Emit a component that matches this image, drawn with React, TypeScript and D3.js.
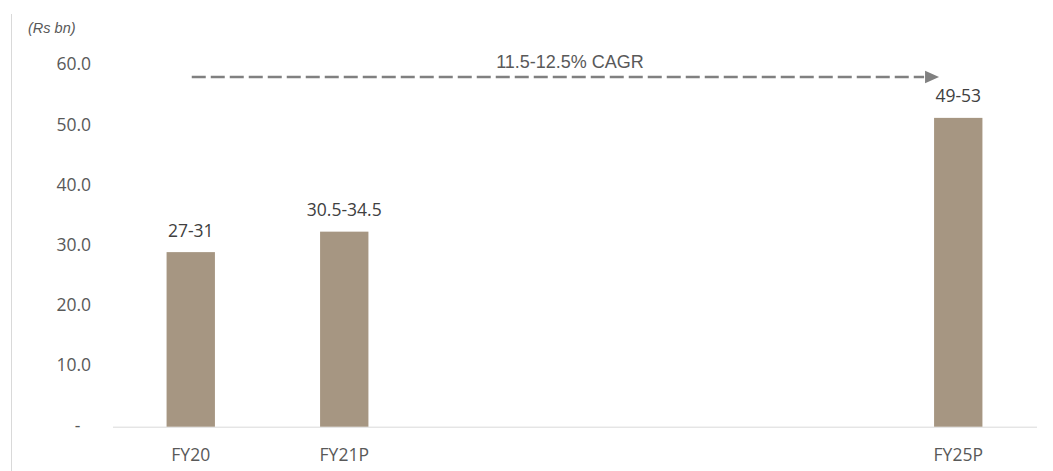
import React from "react";
import * as d3 from "d3";

const categories = ["FY20", "FY21P", "FY22P", "FY23P", "FY24P", "FY25P"];
const shownLabels = ["FY20", "FY21P", "FY25P"];
const values: (number | null)[] = [29, 32.4, null, null, null, 51.3];
const rangeLabels = ["27-31", "30.5-34.5", "", "", "", "49-53"];
const yTicks = [0, 10, 20, 30, 40, 50, 60];
const cagrText = "11.5-12.5% CAGR";
const unitText = "(Rs bn)";

const W = 1053;
const H = 471;
const M = { left: 114, right: 18, top: 65.5, bottom: 44.3 };

export default function App() {
  const x = d3
    .scaleBand<string>()
    .domain(categories)
    .range([M.left, W - M.right])
    .paddingInner(0.685)
    .paddingOuter(0.3425);
  const y = d3.scaleLinear().domain([0, 60]).range([H - M.bottom, M.top]);
  const fmt = (v: number) => (v === 0 ? "-" : d3.format(".1f")(v));
  const font = "'Open Sans', sans-serif";
  const arial = "'Liberation Sans', Arial, sans-serif";
  const arrowY = y(58.1);
  const x0 = (x("FY20") as number) + x.bandwidth() / 2 + 1;
  const x1 = (x("FY25P") as number) - 10;

  return (
    <svg width={W} height={H} style={{ position: "absolute", left: 0, top: 0 }}>
      <rect width={W} height={H} fill="#fff" />
      <line x1={11.5} x2={11.5} y1={14} y2={H} stroke="#d9d9d9" strokeWidth={1} />
      <text x={28} y={33} fontSize={14.5} fontStyle="italic" fill="#595959" fontFamily={arial}>
        {unitText}
      </text>
      {yTicks.map((t) => (
        <text
          key={t}
          x={t === 0 ? 80.5 : 91}
          y={y(t) + 4.8}
          textAnchor="end"
          fontSize={17.5}
          fill="#595959"
          fontFamily={font}
        >
          {fmt(t)}
        </text>
      ))}
      <line
        x1={x.range()[0] - 1}
        x2={x.range()[1] + 2}
        y1={y(0) + 0.5}
        y2={y(0) + 0.5}
        stroke="#d9d9d9"
        strokeWidth={1}
      />
      {categories.map((c, i) =>
        values[i] == null ? null : (
          <g key={c}>
            <rect
              x={x(c)}
              y={y(values[i] as number)}
              width={x.bandwidth()}
              height={y(0) - y(values[i] as number)}
              fill="#A69682"
            />
            <text
              x={(x(c) as number) + x.bandwidth() / 2}
              y={y(values[i] as number) - 15.5}
              textAnchor="middle"
              fontSize={17.5}
              fill="#404040"
              fontFamily={font}
            >
              {rangeLabels[i]}
            </text>
          </g>
        )
      )}
      {categories.map((c) =>
        shownLabels.includes(c) ? (
          <text
            key={c}
            x={(x(c) as number) + x.bandwidth() / 2}
            y={460.5}
            textAnchor="middle"
            fontSize={17.5}
            fill="#595959"
            fontFamily={font}
          >
            {c}
          </text>
        ) : null
      )}
      <line
        x1={x0}
        x2={x1}
        y1={arrowY}
        y2={arrowY}
        stroke="#808080"
        strokeWidth={2.5}
        strokeDasharray="14 5"
      />
      <path
        d={`M${x1 + 1},${arrowY - 6.3} L${x1 + 15},${arrowY} L${x1 + 1},${arrowY + 6.3} Z`}
        fill="#808080"
      />
      <text
        x={570}
        y={67.7}
        textAnchor="middle"
        fontSize={18}
        fill="#595959"
        fontFamily={arial}
      >
        {cagrText}
      </text>
    </svg>
  );
}
